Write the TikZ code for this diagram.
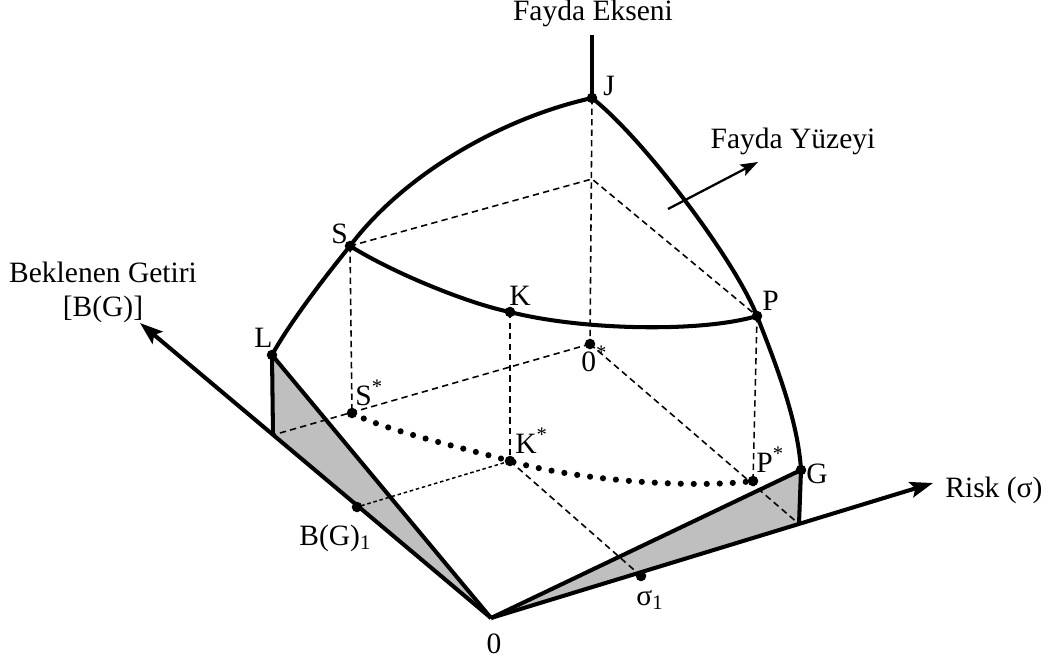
\documentclass[tikz,border=0pt]{standalone}
\usepackage{fontspec}
\setmainfont{Liberation Serif}
\usetikzlibrary{arrows.meta}
\begin{document}
\begin{tikzpicture}[x=0.02cm,y=-0.02cm,
  lbl/.style={font=\fontsize{16.8}{20}\selectfont, inner sep=0pt},
  thickcurve/.style={line width=2.3pt, line join=round},
  axisline/.style={line width=2.3pt},
  dsh/.style={line width=0.9pt, dash pattern=on 3.6pt off 2.4pt},
  fdsh/.style={line width=0.85pt, dash pattern=on 2pt off 1.6pt},
  dotc/.style={line width=3.5pt, line cap=round, dash pattern=on 0pt off 7.4pt},
  shadedarea/.style={fill=gray!50},
  bigarr/.style={-{Stealth[length=13pt,width=9pt,inset=2.5pt]}},
  smallarr/.style={-{Stealth[length=10pt,width=7pt,inset=2pt]}},
  pt/.style={circle, fill=black, inner sep=0pt, minimum size=6pt}
]
\useasboundingbox (0,0) rectangle (1053,662);

% points
\coordinate (O) at (491,618);
\coordinate (Btip) at (140,323);
\coordinate (Rtip) at (933,483);
\coordinate (Ftop) at (592,35);
\coordinate (J) at (592,98);
\coordinate (T) at (592,179);
\coordinate (S) at (350,246);
\coordinate (K) at (510,312);
\coordinate (P) at (757,316);
\coordinate (Oz) at (590,344);
\coordinate (Ss) at (352,413);
\coordinate (Ks) at (510,461);
\coordinate (Ps) at (753,481);
\coordinate (L) at (272,355);
\coordinate (A1) at (273,435);
\coordinate (G) at (801,470);
\coordinate (Gb) at (799,524);
\coordinate (B1) at (357,507);
\coordinate (s1) at (641,576);
\coordinate (Yt) at (668,209);
\coordinate (Yh) at (758,162);

% shaded areas
\fill[shadedarea] (L) -- (A1) -- (O) -- cycle;
\fill[shadedarea] (O) -- (G) -- (Gb) -- cycle;

% dashed construction lines
\draw[dsh] (J) -- (Oz);
\draw[dsh] (S) -- (T) -- (P);
\draw[dsh] (S) -- (Ss);
\draw[dsh] (K) -- (Ks);
\draw[dsh] (P) -- (Ps);
\draw[dsh] (Oz) -- (A1);
\draw[dsh] (Oz) -- (Gb);
\draw[dsh] (Ks) -- (s1);
\draw[fdsh] (Ks) -- (B1);

% thick edges and axes
\draw[thickcurve] (L) -- (A1);
\draw[thickcurve] (L) -- (O);
\draw[thickcurve] (O) -- (G) -- (Gb);
\draw[axisline, bigarr] (O) -- (Btip);
\draw[axisline, bigarr] (O) -- (Rtip);
\draw[axisline] (J) -- (Ftop);

% surface curves
\draw[thickcurve] (L) .. controls (290,322) and (328,273) .. (S)
  .. controls (404,174) and (502,118) .. (J);
\draw[thickcurve] (J) .. controls (643,138) and (735,260) .. (P)
  .. controls (775,362) and (798,420) .. (G);
\draw[thickcurve] (S) .. controls (395,274) and (470,304) .. (K)
  .. controls (580,330) and (700,333) .. (P);
\draw[dotc] (Ss) .. controls (383,430) and (475,451) .. (Ks)
  .. controls (575,480) and (690,489) .. (Ps);

% Fayda Yuzeyi arrow
\draw[line width=1.3pt, smallarr] (Yt) -- (Yh);

% dots
\foreach \p in {J,S,K,P,Oz,Ss,Ks,Ps,L,G,B1,s1}
  \node[pt] (dot\p) at (\p) {};

% labels
\node[lbl, anchor=base] (tFE) at (593,21) {Fayda Ekseni};
\node[lbl, anchor=base west] (tJ) at (603,96) {J};
\node[lbl, anchor=base] (tFY) at (793,149) {Fayda Yüzeyi};
\node[lbl, anchor=base west] (tS) at (331,243) {S};
\node[lbl, anchor=base] (tBG) at (103,282) {Beklenen Getiri};
\node[lbl, anchor=base] (tBG2) at (103,316) {[B(G)]};
\node[lbl, anchor=base west] (tK) at (509,305) {K};
\node[lbl, anchor=base west] (tP) at (762,310) {P};
\node[lbl, anchor=base west] (tL) at (254,347) {L};
\node[lbl, anchor=base west] (tOz) at (581,371) {0\textsuperscript{*}};
\node[lbl, anchor=base west] (tSs) at (355,405) {S\textsuperscript{*}};
\node[lbl, anchor=base west] (tKs) at (515,453) {K\textsuperscript{*}};
\node[lbl, anchor=base west] (tPs) at (756,472) {P\textsuperscript{*}};
\node[lbl, anchor=base west] (tG) at (806,483) {G};
\node[lbl, anchor=base west] (tR) at (945,497) {Risk (σ)};
\node[lbl, anchor=base west] (tB1) at (299,545) {B(G)\textsubscript{1}};
\node[lbl, anchor=base west] (ts1) at (636,605) {σ\textsubscript{1}};
\node[lbl, anchor=base] (tO) at (494,653) {0};
\end{tikzpicture}
\end{document}
